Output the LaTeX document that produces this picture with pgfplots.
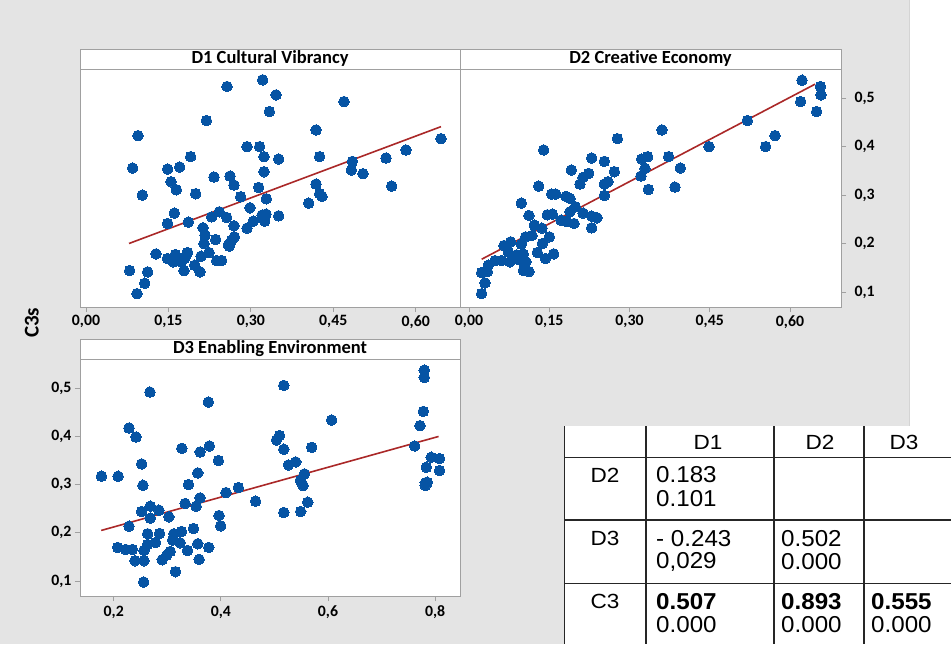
\documentclass[border=0pt]{standalone}
\usepackage{pgfplots}
\pgfplotsset{compat=1.18}
\usepackage{pgfplotstable}
\usepackage{fontspec}
\setmainfont{Carlito}[Ligatures=NoCommon]
\newfontfamily\tablefont{Liberation Sans}

\definecolor{bggray}{RGB}{228,228,228}
\definecolor{edgegray}{RGB}{212,212,212}
\definecolor{framegray}{RGB}{160,160,160}
\definecolor{dotblue}{RGB}{6,84,164}
\definecolor{linered}{RGB}{170,40,40}

% C3s against D1 (Cultural Vibrancy)
\pgfplotstableread{
x y
0.3215 0.5383
0.2566 0.5245
0.3458 0.5072
0.4695 0.4934
0.3336 0.4727
0.2190 0.4541
0.4186 0.4348
0.0946 0.4231
0.6460 0.4168
0.2930 0.4003
0.3160 0.4003
0.5823 0.3934
0.1905 0.3796
0.3239 0.3796
0.4252 0.3796
0.5460 0.3768
0.3506 0.3747
0.4847 0.3699
0.0849 0.3561
0.1486 0.3540
0.1705 0.3582
0.4829 0.3520
0.3239 0.3485
0.5041 0.3444
0.2329 0.3375
0.2621 0.3395
0.1547 0.3278
0.2693 0.3209
0.4186 0.3230
0.5563 0.3188
0.3142 0.3161
0.1644 0.3112
0.1025 0.3002
0.1996 0.3030
0.4252 0.3030
0.4295 0.2974
0.2815 0.2968
0.3282 0.2926
0.4052 0.2836
0.2985 0.2740
0.1608 0.2629
0.2426 0.2657
0.2287 0.2553
0.2560 0.2540
0.3203 0.2588
0.3276 0.2609
0.3506 0.2574
0.3251 0.2464
0.3045 0.2464
0.1486 0.2415
0.1862 0.2443
0.2693 0.2367
0.2930 0.2319
0.2129 0.2326
0.2166 0.2174
0.2699 0.2139
0.2360 0.2084
0.2651 0.2070
0.2147 0.2001
0.2590 0.1974
0.2608 0.1946
0.1274 0.1787
0.1850 0.1815
0.2238 0.1815
0.1626 0.1774
0.2093 0.1739
0.1480 0.1691
0.1589 0.1622
0.1699 0.1656
0.1796 0.1691
0.1832 0.1774
0.2378 0.1649
0.2469 0.1649
0.0795 0.1442
0.1122 0.1415
0.1978 0.1553
0.1783 0.1442
0.2075 0.1415
0.1068 0.1180
0.0928 0.0966
0.1608 0.1642
0.1735 0.1622
}\dataDone

% C3s against D2 (Creative Economy)
\pgfplotstableread{
x y
0.6224 0.5376
0.6567 0.5245
0.6579 0.5072
0.6199 0.4934
0.6498 0.4727
0.5202 0.4541
0.3607 0.4348
0.2773 0.4168
0.1396 0.3934
0.4486 0.4003
0.5545 0.4003
0.5720 0.4231
0.2293 0.3768
0.2530 0.3699
0.3227 0.3747
0.3340 0.3796
0.3732 0.3796
0.1913 0.3520
0.2717 0.3485
0.3290 0.3554
0.3950 0.3561
0.2237 0.3451
0.2131 0.3368
0.2075 0.3230
0.3215 0.3395
0.2530 0.3230
0.2598 0.3278
0.1302 0.3188
0.3352 0.3119
0.3850 0.3168
0.1545 0.3023
0.1620 0.3023
0.1813 0.2974
0.1888 0.2933
0.2530 0.2995
0.0978 0.2836
0.1988 0.2761
0.1888 0.2657
0.2131 0.2629
0.2293 0.2567
0.2393 0.2533
0.1121 0.2581
0.1464 0.2595
0.1558 0.2609
0.1826 0.2457
0.1963 0.2415
0.1221 0.2381
0.1364 0.2319
0.2293 0.2326
0.1059 0.2139
0.1178 0.2167
0.1502 0.2139
0.0779 0.2036
0.0654 0.1960
0.0978 0.1988
0.1371 0.2001
0.0735 0.1822
0.0891 0.1767
0.1016 0.1781
0.1277 0.1815
0.1583 0.1787
0.1427 0.1691
0.0486 0.1649
0.0611 0.1649
0.0766 0.1622
0.0966 0.1656
0.0361 0.1553
0.0237 0.1401
0.0343 0.1422
0.1016 0.1442
0.1121 0.1422
0.0299 0.1187
0.0237 0.0966
0.0860 0.1691
0.1065 0.1622
0.1720 0.2484
}\dataDtwo

% C3s against D3 (Enabling Environment)
\pgfplotstableread{
x y
0.7798 0.5376
0.7798 0.5224
0.5175 0.5059
0.2676 0.4921
0.3767 0.4714
0.7780 0.4520
0.6068 0.4341
0.2285 0.4175
0.7718 0.4224
0.2416 0.3989
0.5095 0.4017
0.5039 0.3927
0.3271 0.3754
0.3786 0.3803
0.3612 0.3678
0.5175 0.3734
0.5696 0.3775
0.7619 0.3803
0.7929 0.3568
0.8084 0.3540
0.3953 0.3499
0.5398 0.3471
0.5262 0.3409
0.2521 0.3430
0.3569 0.3244
0.5560 0.3223
0.1771 0.3175
0.2081 0.3175
0.5485 0.3092
0.7836 0.3361
0.8084 0.3292
0.2546 0.2988
0.3395 0.3002
0.5535 0.2981
0.7817 0.3037
0.7817 0.2981
0.4326 0.2940
0.4096 0.2836
0.3612 0.2726
0.4648 0.2657
0.3333 0.2609
0.3538 0.2553
0.2682 0.2553
0.2521 0.2443
0.2843 0.2471
0.5175 0.2422
0.5491 0.2443
0.5622 0.2636
0.3029 0.2333
0.2682 0.2305
0.3966 0.2360
0.3997 0.2146
0.2285 0.2139
0.3488 0.2091
0.2633 0.1981
0.2856 0.1988
0.3122 0.1981
0.3265 0.2029
0.2074 0.1698
0.2223 0.1656
0.2347 0.1656
0.2564 0.1636
0.2781 0.1801
0.2633 0.1760
0.3098 0.1850
0.3240 0.1794
0.3377 0.1636
0.3569 0.1774
0.3774 0.1698
0.2397 0.1422
0.2564 0.1422
0.2905 0.1442
0.2992 0.1539
0.3054 0.1615
0.3594 0.1449
0.3153 0.1194
0.2558 0.0980
0.7854 0.3050
}\dataDthree

\pgfplotsset{
  panel/.style={
    scale only axis, width=380pt, height=238pt,
    ymin=0.069, ymax=0.5607,
    axis line style={framegray, line width=0.8pt},
    tick style={framegray, line width=0.8pt},
    tick align=outside, major tick length=5pt,
    xtick pos=lower,
    axis background/.style={fill=white},
    /pgf/number format/assume math mode=true,
    tick label style={font=\fontsize{15.8}{18}\selectfont\bfseries, text=black},
  },
  dots/.style={only marks, mark=*, mark size=5.3pt,
    mark options={fill=dotblue, draw=dotblue, line width=0pt}},
  fitline/.style={linered, line width=1.6pt, no marks},
  twodec/.style={/pgf/number format/.cd, fixed, fixed zerofill, precision=2, use comma},
  onedec/.style={/pgf/number format/.cd, fixed, fixed zerofill, precision=1, use comma},
}

\begin{document}
\begin{tikzpicture}[x=1pt, y=1pt]
\useasboundingbox (0,0) rectangle (951,-650);
\fill[white] (0,0) rectangle (951,-650);
\fill[bggray] (0,0) rectangle (909,-644);
\draw[edgegray, line width=1pt] (909,0) -- (909,-644);

% D1 panel
\begin{axis}[panel, at={(80pt,-307pt)}, anchor=south west,
  xmin=-0.0109, xmax=0.6806,
  xtick={0,0.15,0.30,0.45,0.60}, xticklabel style={twodec},
  ytick=\empty]
  \addplot[dots] table {\dataDone};
  \addplot[fitline] coordinates {(0.0783,0.2002) (0.646,0.4416)};
\end{axis}

% D2 panel
\begin{axis}[panel, at={(460pt,-307pt)}, anchor=south west, width=381pt,
  xmin=-0.0168, xmax=0.6953,
  xtick={0,0.15,0.30,0.45,0.60}, xticklabel style={twodec},
  ytick={0.1,0.2,0.3,0.4,0.5}, ytick pos=right, yticklabel pos=right,
  yticklabel style={xshift=5pt, onedec}]
  \addplot[dots] table {\dataDtwo};
  \addplot[fitline] coordinates {(0.0237,0.1677) (0.6467,0.5293)};
\end{axis}

% D3 panel
\begin{axis}[panel, at={(80pt,-596pt)}, anchor=south west, height=237pt,
  xmin=0.137, xmax=0.8465,
  xtick={0.2,0.4,0.6,0.8}, xticklabel style={yshift=-1.5pt, onedec},
  ytick={0.1,0.2,0.3,0.4,0.5}, ytick pos=left,
  yticklabel style={onedec}]
  \addplot[dots] table {\dataDthree};
  \addplot[fitline] coordinates {(0.1766,0.205) (0.8065,0.400)};
\end{axis}

% panel header strips
\begin{scope}[every node/.style={font=\fontsize{18.5}{20}\selectfont\bfseries, inner sep=0pt}]
  \draw[framegray, line width=0.8pt, fill=white] (80,-49) rectangle (460,-69);
  \node at (270,-58.5) {D1 Cultural Vibrancy};
  \draw[framegray, line width=0.8pt, fill=white] (460,-49) rectangle (841,-69);
  \node at (650.5,-58.5) {D2 Creative Economy};
  \draw[framegray, line width=0.8pt, fill=white] (80,-339) rectangle (460,-359);
  \node at (270,-348.5) {D3 Enabling Environment};
\end{scope}

\node[rotate=90, font=\fontsize{21}{24}\selectfont\bfseries] at (31.7,-322.7) {C3s};

% correlation table
\fill[white] (564.5,-426) rectangle (951,-644);
\begin{scope}[line width=1.8pt, black!85]
  \foreach \xx in {564.5,646,774,864} \draw (\xx,-426) -- (\xx,-644);
  \foreach \yy in {457.5,520,583.5} \draw (564.5,-\yy) -- (951,-\yy);
\end{scope}
\begin{scope}[every node/.style={inner sep=0pt, text=black}]
  \newcommand\lab[1]{\scalebox{1.1}[1]{\tablefont\fontsize{20.5}{22}\selectfont #1}}
  \newcommand\val[1]{\scalebox{1.05}[1]{\tablefont\fontsize{23}{25}\selectfont #1}}
  \newcommand\bval[1]{\scalebox{1.05}[1]{\tablefont\bfseries\fontsize{23}{25}\selectfont #1}}
  \node at (708,-442) {\lab{D1}};
  \node at (820,-442) {\lab{D2}};
  \node at (904,-442) {\lab{D3}};
  \node at (605,-475) {\lab{D2}};
  \node at (605,-538.3) {\lab{D3}};
  \node at (605,-601.7) {\lab{C3}};
  \node[anchor=west] at (656,-475) {\val{0.183}};
  \node[anchor=west] at (656,-498.3) {\val{0.101}};
  \node[anchor=west] at (656,-538.3) {\val{- 0.243}};
  \node[anchor=west] at (656,-561.7) {\val{0,029}};
  \node[anchor=west] at (656,-601.7) {\bval{0.507}};
  \node[anchor=west] at (656,-625) {\val{0.000}};
  \node[anchor=west] at (781,-538.3) {\val{0.502}};
  \node[anchor=west] at (781,-561.7) {\val{0.000}};
  \node[anchor=west] at (781,-601.7) {\bval{0.893}};
  \node[anchor=west] at (781,-625) {\val{0.000}};
  \node[anchor=west] at (871,-601.7) {\bval{0.555}};
  \node[anchor=west] at (871,-625) {\val{0.000}};
\end{scope}
\end{tikzpicture}
\end{document}
